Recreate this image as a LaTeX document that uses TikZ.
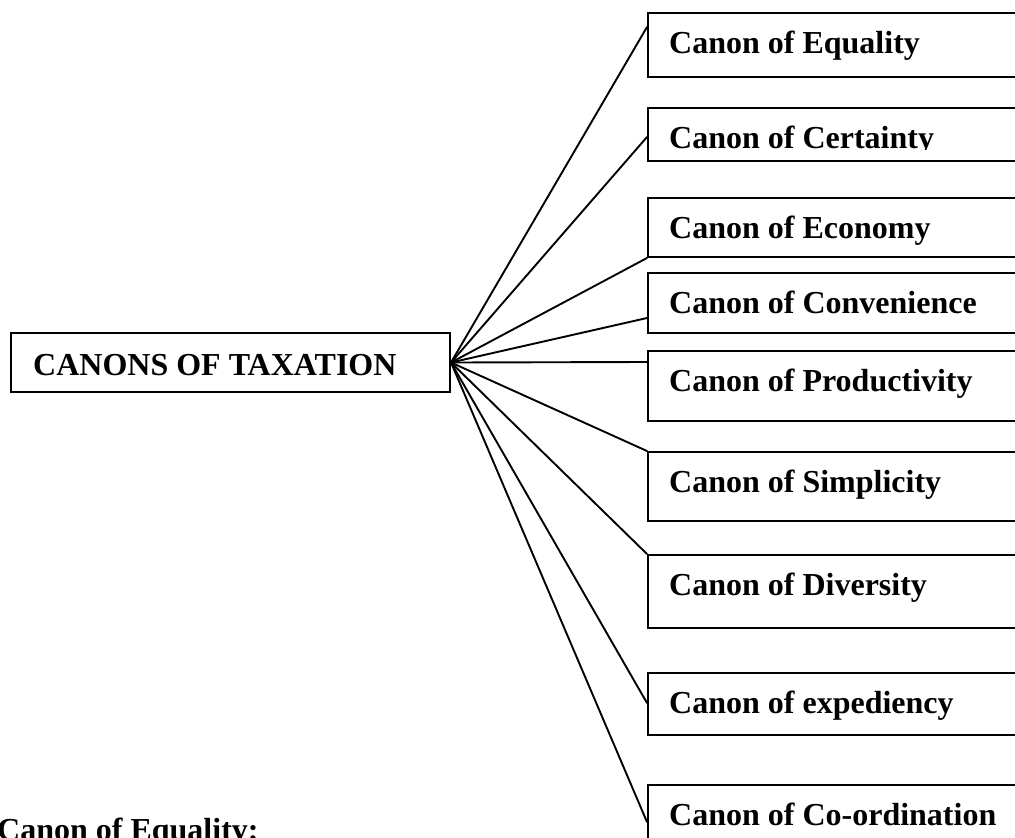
\documentclass[tikz,border=0pt]{standalone}
\usepackage{fontspec}
\setmainfont{Liberation Serif}
\begin{document}
\begin{tikzpicture}[x=1pt,y=-1pt,
  frame/.style={draw, line width=2pt, rectangle, inner sep=0pt, anchor=north west},
  canonbox/.style={frame, minimum width=383pt},
  canontext/.style={anchor=base west, inner sep=0pt, font=\bfseries\fontsize{32}{36}\selectfont},
  spoke/.style={line width=1.9pt, line cap=round}]
\useasboundingbox (0,0) rectangle (1015,838);
\clip (0,0) rectangle (1015,838);

% central box
\node[frame, minimum width=439pt, minimum height=59pt] (title) at (10,332) {};
\node[canontext] (titletext) at (33,375) {CANONS OF TAXATION};

% the nine canons
\node[canonbox, minimum height=64pt] (b1) at (647,12) {};
\node[canontext] (t1) at (669,53) {Canon of Equality};

\node[canonbox, minimum height=53pt] (b2) at (647,107) {};
\begin{scope}
  \clip (647,107) rectangle (1015,149);
  \node[canontext] (t2) at (669,148) {Canon of Certainty};
\end{scope}

\node[canonbox, minimum height=59pt] (b3) at (647,197) {};
\node[canontext] (t3) at (669,238) {Canon of Economy};

\node[canonbox, minimum height=60pt] (b4) at (647,272) {};
\node[canontext] (t4) at (669,313) {Canon of Convenience};

\node[canonbox, minimum height=70pt] (b5) at (647,350) {};
\node[canontext] (t5) at (669,391) {Canon of Productivity};

\node[canonbox, minimum height=69pt] (b6) at (647,451) {};
\node[canontext] (t6) at (669,492) {Canon of Simplicity};

\node[canonbox, minimum height=73pt] (b7) at (647,554) {};
\node[canontext] (t7) at (669,595) {Canon of Diversity};

\node[canonbox, minimum height=62pt] (b8) at (647,672) {};
\node[canontext] (t8) at (669,713) {Canon of expediency};

\node[canonbox, minimum height=80pt] (b9) at (647,784) {};
\node[canontext] (t9) at (669,825) {Canon of Co-ordination};

% where the spokes meet the boxes
\coordinate (p1) at (647,27);
\coordinate (p2) at (647,137);
\coordinate (p4) at (647,318);
\coordinate (p5) at (647,362);
\coordinate (p8) at (647,703);
\coordinate (p9) at (647,822);

\draw[spoke] (title.east) -- (p1);
\draw[spoke] (title.east) -- (p2);
\draw[spoke] (title.east) -- (b3.south west);
\draw[spoke] (title.east) -- (p4);
\draw[spoke] (title.east) -- (p5);
\draw[spoke] (title.east) -- (b6.north west);
\draw[spoke] (title.east) -- (b7.north west);
\draw[spoke] (title.east) -- (p8);
\draw[spoke] (title.east) -- (p9);

% heading of the following section
\node[canontext] (heading) at (-3,840) {Canon of Equality:};
\end{tikzpicture}
\end{document}
